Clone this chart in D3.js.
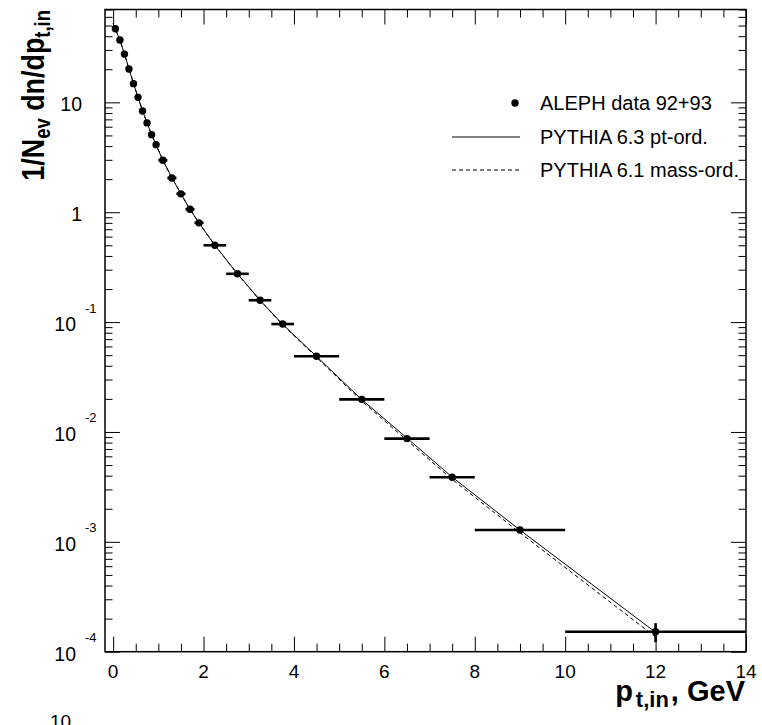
<!DOCTYPE html>
<html><head><meta charset="utf-8">
<script src="https://cdn.jsdelivr.net/npm/d3@7"></script>
<style>body{margin:0;background:#fff} svg{display:block} text{font-family:"Liberation Sans",Arial,Helvetica,sans-serif;fill:#000}</style>
</head><body><svg id="c" width="762" height="725"></svg>
<script>
// ---- data ----
const dataX = [0.05,0.15,0.25,0.35,0.45,0.55,0.65,0.75,0.85,0.95,1.1,1.3,1.5,1.7,1.9,2.25,2.75,3.25,3.75,4.5,5.5,6.5,7.5,9,12];
const dataXErr = [0.05,0.05,0.05,0.05,0.05,0.05,0.05,0.05,0.05,0.05,0.1,0.1,0.1,0.1,0.1,0.25,0.25,0.25,0.25,0.5,0.5,0.5,0.5,1,2];
const dataY = [46.8,36.9,27.5,20.1,14.8,11.1,8.35,6.5,5.08,4.12,2.97,2.05,1.47,1.065,0.80,0.50,0.275,0.158,0.096,0.0488,0.0198,0.0087,0.00387,0.00128,0.000152];
const dataYErr = [0.5,0.4,0.3,0.2,0.15,0.12,0.09,0.07,0.05,0.045,0.03,0.02,0.015,0.011,0.008,0.006,0.004,0.0025,0.0017,0.0009,0.0004,0.0002,0.0001,0.00004,0.00003];
const modelX = [0.0,0.05,0.15,0.25,0.35,0.45,0.55,0.65,0.75,0.85,0.95,1.1,1.3,1.5,1.7,1.9,2.25,2.75,3.25,3.75,4.5,5.5,6.5,7.5,9,12];
const pythia63Y = [52,46.5,36.8,27.6,20.2,14.9,11.1,8.4,6.5,5.1,4.1,2.97,2.06,1.47,1.06,0.80,0.50,0.276,0.158,0.0955,0.0487,0.0197,0.0088,0.00388,0.00128,0.000150];
const pythia61Y = [52,46.5,36.8,27.6,20.2,14.9,11.1,8.4,6.5,5.1,4.1,2.97,2.06,1.47,1.06,0.80,0.50,0.274,0.157,0.0945,0.0478,0.0191,0.0084,0.0037,0.00121,0.000136];
const xTickLabels = [0,2,4,6,8,10,12,14];
const yTickValues = [1e-4,1e-3,1e-2,1e-1,1,10];
const yTickBase = ["10","10","10","10","1","10"];
const yTickExp = ["-4","-3","-2","-1","",""];
const legendLabels = ["ALEPH data 92+93","PYTHIA 6.3 pt-ord.","PYTHIA 6.1 mass-ord."];

// ---- layout ----
const L = 105, R = 746, T = 9.5, B = 651.7;
const svg = d3.select("#c");
const x = d3.scaleLinear().domain([-0.18, 14]).range([L, R]);
const y = d3.scaleLog().domain([1e-4, 70]).range([B, T]);

const xMinor = d3.range(0, 14.001, 0.5).filter(v => Math.abs(v/2 - Math.round(v/2)) > 1e-6);
const yMinor = [];
for (let e = -4; e <= 1; e++) for (let k = 2; k <= 9; k++) { const v = k*Math.pow(10,e); if (v <= 70) yMinor.push(v); }

function axisG(axis, tx, ty) {
  const g = svg.append("g").attr("transform", `translate(${tx},${ty})`).call(axis);
  g.select(".domain").remove();
  g.selectAll("text").remove();
  g.selectAll("line").attr("stroke", "#000").attr("stroke-width", 1);
  return g;
}
axisG(d3.axisBottom(x).tickValues(xTickLabels).tickSize(-15).tickSizeOuter(0), 0, B);
axisG(d3.axisBottom(x).tickValues(xMinor).tickSize(-8).tickSizeOuter(0), 0, B);
axisG(d3.axisTop(x).tickValues(xTickLabels).tickSize(-15).tickSizeOuter(0), 0, T);
axisG(d3.axisTop(x).tickValues(xMinor).tickSize(-8).tickSizeOuter(0), 0, T);
axisG(d3.axisLeft(y).tickValues(yTickValues).tickSize(-15).tickSizeOuter(0), L, 0);
axisG(d3.axisLeft(y).tickValues(yMinor).tickSize(-7.5).tickSizeOuter(0), L, 0);
axisG(d3.axisRight(y).tickValues(yTickValues).tickSize(-15).tickSizeOuter(0), R, 0);
axisG(d3.axisRight(y).tickValues(yMinor).tickSize(-7.5).tickSizeOuter(0), R, 0);

svg.append("rect").attr("x", L).attr("y", T).attr("width", R-L).attr("height", B-T)
  .attr("fill", "none").attr("stroke", "#000").attr("stroke-width", 1.5);

svg.append("g").selectAll("text").data(xTickLabels).join("text")
  .attr("x", d => x(d)).attr("y", B + 26).attr("text-anchor", "middle")
  .attr("font-size", 19).text(d => d);
const yl = svg.append("g");
yTickValues.forEach((v, i) => {
  const ty = y(v);
  const hasExp = yTickExp[i] !== "";
  yl.append("text").attr("x", hasExp ? 76 : 82).attr("y", ty + 9).attr("text-anchor", "end")
    .attr("font-size", 19.5).text(yTickBase[i]);
  if (hasExp) yl.append("text").attr("x", 85).attr("y", ty - 9.5).attr("font-size", 13).text(yTickExp[i]);
});

const line = d3.line().x(d => x(d[0])).y(d => y(d[1]));
svg.append("path").datum(d3.zip(modelX, pythia61Y)).attr("d", line)
  .attr("fill", "none").attr("stroke", "#000").attr("stroke-width", 1).attr("stroke-dasharray", "4,3");
svg.append("path").datum(d3.zip(modelX, pythia63Y)).attr("d", line)
  .attr("fill", "none").attr("stroke", "#000").attr("stroke-width", 1);

const pts = dataX.map((d, i) => ({x: d, xe: dataXErr[i], y: dataY[i], ye: dataYErr[i]}));
const dg = svg.append("g");
dg.selectAll("line.h").data(pts).join("line").attr("class", "h")
  .attr("x1", d => x(d.x - d.xe)).attr("x2", d => x(d.x + d.xe))
  .attr("y1", d => y(d.y)).attr("y2", d => y(d.y))
  .attr("stroke", "#000").attr("stroke-width", 2.6);
dg.selectAll("line.v").data(pts).join("line").attr("class", "v")
  .attr("x1", d => x(d.x)).attr("x2", d => x(d.x))
  .attr("y1", d => y(d.y - d.ye)).attr("y2", d => y(d.y + d.ye))
  .attr("stroke", "#000").attr("stroke-width", 2.6);
dg.selectAll("circle").data(pts).join("circle")
  .attr("cx", d => x(d.x)).attr("cy", d => y(d.y)).attr("r", 3.7).attr("fill", "#000");

const lg = svg.append("g");
lg.append("circle").attr("cx", 515).attr("cy", 103).attr("r", 3.7).attr("fill", "#000");
lg.append("line").attr("x1", 452).attr("x2", 520).attr("y1", 137).attr("y2", 137).attr("stroke", "#000");
lg.append("line").attr("x1", 452).attr("x2", 520).attr("y1", 170).attr("y2", 170).attr("stroke", "#000").attr("stroke-dasharray", "4,3");
[110, 144, 177].forEach((by, i) => lg.append("text").attr("x", 540).attr("y", by).attr("font-size", 20).text(legendLabels[i]));

const xt = svg.append("text").attr("x", 745).attr("y", 701).attr("text-anchor", "end")
  .attr("font-size", 29).attr("font-weight", "bold");
xt.append("tspan").text("p");
xt.append("tspan").attr("font-size", 22).attr("dy", 6).attr("dx", 3).text("t,in");
xt.append("tspan").attr("dy", -6).attr("dx", 2).text(", GeV");

const yt = svg.append("text").attr("transform", "translate(44,10) rotate(-90) scale(0.84,1)").attr("text-anchor", "end")
  .attr("font-size", 32).attr("font-weight", "bold");
yt.append("tspan").text("1/N");
yt.append("tspan").attr("font-size", 22).attr("dy", 6).text("ev");
yt.append("tspan").attr("dy", -6).text(" dn/dp");
yt.append("tspan").attr("font-size", 22).attr("dy", 6).text("t,in");

svg.append("text").attr("x", 50).attr("y", 728).attr("font-size", 19).text("10");
</script></body></html>
